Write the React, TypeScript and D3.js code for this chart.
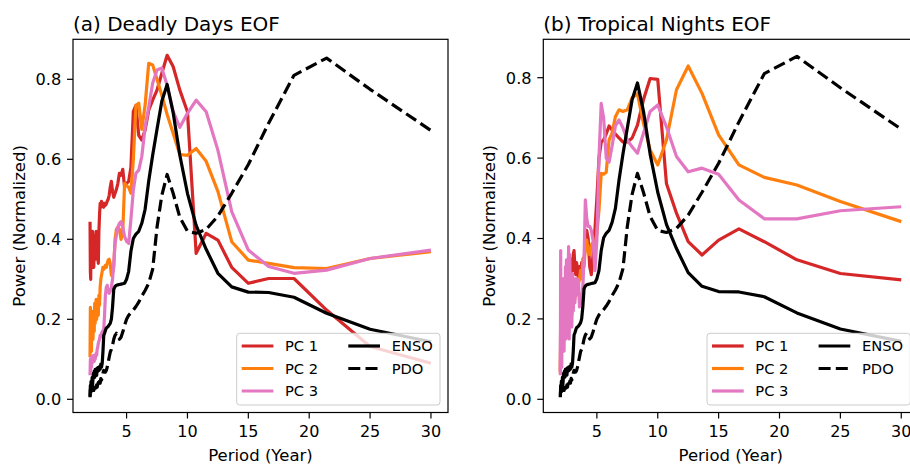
import React from 'react';
import * as d3 from 'd3';

// Periods (years), ascending
const periods = [
  2.000, 2.027, 2.055, 2.083, 2.113, 2.143, 2.174, 2.206, 2.239, 2.273,
  2.308, 2.344, 2.381, 2.419, 2.459, 2.500, 2.542, 2.586, 2.632, 2.679,
  2.727, 2.778, 2.830, 2.885, 2.941, 3.000, 3.061, 3.125, 3.191, 3.261,
  3.333, 3.409, 3.488, 3.571, 3.659, 3.750, 3.846, 3.947, 4.054, 4.167,
  4.286, 4.412, 4.545, 4.688, 4.839, 5.000, 5.172, 5.357, 5.556, 5.769,
  6.000, 6.250, 6.522, 6.818, 7.143, 7.500, 7.895, 8.333, 8.824, 9.375,
  10.000, 10.714, 11.538, 12.500, 13.636, 15.000, 16.667, 18.750, 21.429, 25.000, 30.000,
];

const ensoPower = [
  0.007, 0.035, 0.020, 0.045, 0.030, 0.040, 0.055, 0.035, 0.050, 0.065,
  0.060, 0.070, 0.055, 0.075, 0.068, 0.072, 0.060, 0.078, 0.070, 0.080,
  0.072, 0.082, 0.075, 0.088, 0.080, 0.090, 0.120, 0.160, 0.165, 0.172,
  0.178, 0.180, 0.182, 0.186, 0.190, 0.200, 0.230, 0.275, 0.282, 0.285,
  0.286, 0.287, 0.288, 0.289, 0.290, 0.300, 0.320, 0.370, 0.402, 0.413,
  0.420, 0.440, 0.475, 0.545, 0.610, 0.675, 0.745, 0.787, 0.717, 0.610,
  0.515, 0.435, 0.375, 0.315, 0.281, 0.268, 0.267, 0.255, 0.215, 0.175, 0.144,
];

const pdoPower = [
  0.005, 0.025, 0.015, 0.030, 0.020, 0.028, 0.022, 0.035, 0.025, 0.030,
  0.022, 0.030, 0.026, 0.034, 0.028, 0.030, 0.036, 0.030, 0.038, 0.042,
  0.035, 0.045, 0.040, 0.052, 0.048, 0.055, 0.065, 0.072, 0.070, 0.068,
  0.072, 0.080, 0.092, 0.105, 0.118, 0.125, 0.135, 0.150, 0.160, 0.165,
  0.160, 0.150, 0.155, 0.168, 0.185, 0.200, 0.210, 0.216, 0.223, 0.232,
  0.243, 0.258, 0.272, 0.290, 0.325, 0.430, 0.510, 0.562, 0.515, 0.455,
  0.420, 0.415, 0.425, 0.458, 0.515, 0.587, 0.690, 0.810, 0.853, 0.775, 0.672,
];

// (a) Deadly Days EOF
const deadlyPC1 = [
  0.444, 0.320, 0.300, 0.420, 0.330, 0.400, 0.350, 0.420, 0.360, 0.400,
  0.330, 0.380, 0.410, 0.350, 0.400, 0.420, 0.370, 0.390, 0.360, 0.340,
  0.420, 0.460, 0.490, 0.480, 0.495, 0.485, 0.490, 0.480, 0.490, 0.485,
  0.488, 0.495, 0.500, 0.510, 0.530, 0.545, 0.520, 0.505, 0.515, 0.525,
  0.540, 0.565, 0.560, 0.575, 0.530, 0.540, 0.545, 0.580, 0.720, 0.735,
  0.660, 0.648, 0.673, 0.723, 0.748, 0.773, 0.815, 0.860, 0.832, 0.773,
  0.719, 0.365, 0.415, 0.398, 0.330, 0.290, 0.302, 0.302, 0.223, 0.132, 0.090,
];
const deadlyPC2 = [
  0.105, 0.230, 0.150, 0.200, 0.120, 0.190, 0.160, 0.220, 0.150, 0.180,
  0.210, 0.170, 0.240, 0.190, 0.230, 0.250, 0.200, 0.245, 0.230, 0.210,
  0.260, 0.235, 0.280, 0.300, 0.310, 0.320, 0.330, 0.325, 0.330, 0.335,
  0.330, 0.340, 0.348, 0.350, 0.340, 0.310, 0.315, 0.330, 0.400, 0.425,
  0.430, 0.425, 0.400, 0.420, 0.540, 0.535, 0.530, 0.515, 0.600, 0.735,
  0.740, 0.675, 0.735, 0.840, 0.836, 0.800, 0.760, 0.712, 0.665, 0.612,
  0.610, 0.627, 0.595, 0.520, 0.394, 0.348, 0.340, 0.329, 0.327, 0.352, 0.369,
];
const deadlyPC3 = [
  0.060, 0.100, 0.070, 0.105, 0.080, 0.100, 0.090, 0.108, 0.095, 0.100,
  0.110, 0.095, 0.105, 0.100, 0.108, 0.115, 0.110, 0.125, 0.130, 0.140,
  0.145, 0.150, 0.160, 0.155, 0.165, 0.168, 0.172, 0.175, 0.210, 0.260,
  0.280, 0.285, 0.270, 0.265, 0.270, 0.280, 0.300, 0.340, 0.390, 0.410,
  0.430, 0.440, 0.444, 0.430, 0.407, 0.395, 0.390, 0.450, 0.523, 0.565,
  0.573, 0.607, 0.680, 0.730, 0.790, 0.823, 0.828, 0.785, 0.720, 0.680,
  0.715, 0.748, 0.719, 0.623, 0.469, 0.373, 0.332, 0.315, 0.323, 0.352, 0.373,
];

// (b) Tropical Nights EOF
const nightsPC1 = [
  0.070, 0.200, 0.120, 0.180, 0.220, 0.150, 0.250, 0.200, 0.260, 0.180,
  0.230, 0.280, 0.210, 0.270, 0.300, 0.240, 0.280, 0.320, 0.260, 0.300,
  0.330, 0.280, 0.340, 0.300, 0.350, 0.320, 0.360, 0.370, 0.330, 0.310,
  0.340, 0.320, 0.300, 0.330, 0.310, 0.340, 0.330, 0.350, 0.380, 0.420,
  0.400, 0.330, 0.310, 0.360, 0.420, 0.500, 0.600, 0.640, 0.645, 0.660,
  0.680, 0.670, 0.660, 0.650, 0.640, 0.640, 0.650, 0.682, 0.745, 0.798,
  0.796, 0.537, 0.463, 0.392, 0.359, 0.396, 0.424, 0.392, 0.347, 0.313, 0.297,
];
const nightsPC2 = [
  0.065, 0.150, 0.100, 0.200, 0.120, 0.180, 0.140, 0.220, 0.160, 0.190,
  0.150, 0.210, 0.180, 0.230, 0.200, 0.170, 0.240, 0.210, 0.250, 0.220,
  0.200, 0.250, 0.230, 0.270, 0.210, 0.240, 0.230, 0.260, 0.250, 0.270,
  0.280, 0.300, 0.290, 0.297, 0.320, 0.300, 0.350, 0.330, 0.380, 0.396,
  0.370, 0.360, 0.385, 0.390, 0.375, 0.413, 0.470, 0.562, 0.560, 0.565,
  0.645, 0.662, 0.703, 0.720, 0.716, 0.720, 0.750, 0.760, 0.687, 0.620,
  0.583, 0.645, 0.770, 0.829, 0.761, 0.658, 0.583, 0.552, 0.533, 0.492, 0.442,
];
const nightsPC3 = [
  0.060, 0.370, 0.100, 0.250, 0.080, 0.200, 0.120, 0.260, 0.150, 0.300,
  0.120, 0.230, 0.180, 0.330, 0.150, 0.347, 0.200, 0.160, 0.300, 0.380,
  0.150, 0.360, 0.200, 0.280, 0.180, 0.313, 0.220, 0.300, 0.240, 0.280,
  0.300, 0.260, 0.297, 0.230, 0.260, 0.240, 0.280, 0.350, 0.496, 0.450,
  0.430, 0.430, 0.420, 0.396, 0.320, 0.396, 0.600, 0.736, 0.700, 0.600,
  0.590, 0.630, 0.680, 0.695, 0.675, 0.645, 0.628, 0.612, 0.662, 0.716,
  0.732, 0.678, 0.604, 0.566, 0.575, 0.560, 0.496, 0.449, 0.449, 0.469, 0.479,
];

const xTicks = [5, 10, 15, 20, 25, 30];
const yTicks = [0, 0.2, 0.4, 0.6, 0.8];
const seriesNames = ['PC 1', 'PC 2', 'PC 3', 'ENSO', 'PDO'];
const seriesColors = ['#d62728', '#ff7f0e', '#e377c2', '#000000', '#000000'];
const seriesDashes = ['', '', '', '', '12,5.2'];

const FONT = 'DejaVu Sans, Verdana, sans-serif';
const AX_TOP = 39.3;
const AX_BOTTOM = 412.5;
const AX_W = 375;

type PanelProps = {
  ox: number;
  title: string;
  pcs: number[][];
  yDomain: [number, number];
};

function Panel({ ox, title, pcs, yDomain }: PanelProps) {
  const x = d3.scaleLinear().domain([0.6, 31.4]).range([ox, ox + AX_W]);
  const y = d3.scaleLinear().domain(yDomain).range([AX_BOTTOM, AX_TOP]);
  const all = [...pcs, ensoPower, pdoPower];
  const line = d3
    .line<number>()
    .x((_, i) => x(periods[i]))
    .y((v) => y(v));
  const lw = 3.2;
  const lgX = ox + 163.7;
  const lgY = 333.3;
  const rows = [346, 368.5, 391];
  const legendItems = seriesNames.map((name, i) => {
    const col = i < 3 ? 0 : 1;
    const row = i < 3 ? i : i - 3;
    const hx = ox + (col === 0 ? 168.7 : 275.3);
    const tx = ox + (col === 0 ? 212 : 318.7);
    return { name, i, hx, tx, yy: rows[row] };
  });
  return (
    <g>
      <text x={ox} y={31} fontFamily={FONT} fontSize={20} fill="#000">
        {title}
      </text>
      {all.map((vals, i) => (
        <path
          key={i}
          d={line(vals) || ''}
          fill="none"
          stroke={seriesColors[i]}
          strokeWidth={lw}
          strokeDasharray={seriesDashes[i] || undefined}
          strokeLinejoin="round"
          strokeLinecap="butt"
        />
      ))}
      <rect
        x={ox}
        y={AX_TOP}
        width={AX_W}
        height={AX_BOTTOM - AX_TOP}
        fill="none"
        stroke="#000"
        strokeWidth={1.2}
      />
      {yTicks.map((t) => (
        <g key={'y' + t}>
          <line x1={ox - 6} x2={ox} y1={y(t)} y2={y(t)} stroke="#000" strokeWidth={1.2} />
          <text
            x={ox - 11.7}
            y={y(t)}
            dy="0.36em"
            textAnchor="end"
            fontFamily={FONT}
            fontSize={16.2}
            fill="#000"
          >
            {d3.format('.1f')(t)}
          </text>
        </g>
      ))}
      {xTicks.map((t) => (
        <g key={'x' + t}>
          <line x1={x(t)} x2={x(t)} y1={AX_BOTTOM} y2={AX_BOTTOM + 6} stroke="#000" strokeWidth={1.2} />
          <text
            x={x(t)}
            y={437.3}
            textAnchor="middle"
            fontFamily={FONT}
            fontSize={16}
            fill="#000"
          >
            {t}
          </text>
        </g>
      ))}
      <text
        x={ox + AX_W / 2}
        y={461}
        textAnchor="middle"
        fontFamily={FONT}
        fontSize={16.5}
        fill="#000"
      >
        Period (Year)
      </text>
      <text
        transform={`translate(${ox - 48.5},${(AX_TOP + AX_BOTTOM) / 2}) rotate(-90)`}
        textAnchor="middle"
        fontFamily={FONT}
        fontSize={16.5}
        fill="#000"
      >
        Power (Normalized)
      </text>
      <rect
        x={lgX}
        y={lgY}
        width={203.3}
        height={71.7}
        rx={3}
        ry={3}
        fill="#ffffff"
        fillOpacity={0.8}
        stroke="#cccccc"
        strokeWidth={1}
      />
      {legendItems.map((it) => (
        <g key={it.name}>
          <line
            x1={it.hx}
            x2={it.hx + 31.7}
            y1={it.yy}
            y2={it.yy}
            stroke={seriesColors[it.i]}
            strokeWidth={lw}
            strokeDasharray={seriesDashes[it.i] || undefined}
          />
          <text x={it.tx} y={it.yy} dy="0.37em" fontFamily={FONT} fontSize={14.7} fill="#000">
            {it.name}
          </text>
        </g>
      ))}
    </g>
  );
}

export default function App() {
  return (
    <svg
      width={910}
      height={464}
      style={{ position: 'absolute', left: 0, top: 0, background: '#fff' }}
    >
      <rect x={0} y={0} width={910} height={464} fill="#fff" />
      <Panel
        ox={73}
        title="(a) Deadly Days EOF"
        pcs={[deadlyPC1, deadlyPC2, deadlyPC3]}
        yDomain={[-0.033, 0.9]}
      />
      <Panel
        ox={543.3}
        title="(b) Tropical Nights EOF"
        pcs={[nightsPC1, nightsPC2, nightsPC3]}
        yDomain={[-0.0328, 0.8955]}
      />
    </svg>
  );
}
